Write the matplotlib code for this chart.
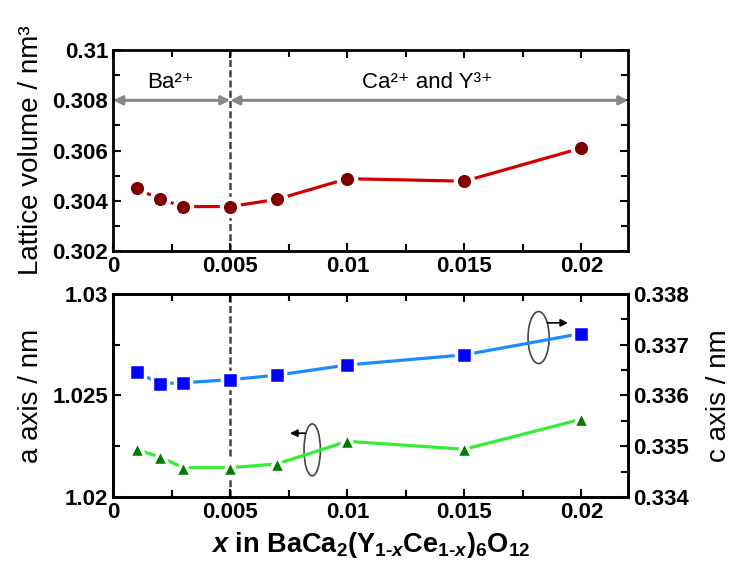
import matplotlib
matplotlib.use('Agg')
import matplotlib.pyplot as plt
from matplotlib.patches import Ellipse
from matplotlib.ticker import MultipleLocator, FuncFormatter

# Datos
x_vals = [0.001, 0.002, 0.003, 0.005, 0.007, 0.01, 0.015, 0.02]
volumen = [0.30449, 0.30406, 0.30377, 0.30377, 0.30406, 0.30488, 0.30478, 0.3061]
eje_a = [1.02234, 1.02196, 1.02144, 1.02144, 1.02163, 1.02274, 1.02235, 1.02383]
eje_c = [0.33646, 0.33623, 0.33625, 0.33631, 0.33640, 0.33660, 0.33680, 0.33722]

x_limite = 0.005  # cambio de sitio de sustitucion

plt.rcParams['font.family'] = ['Liberation Sans', 'DejaVu Sans']
plt.rcParams['mathtext.fontset'] = 'custom'
plt.rcParams['mathtext.rm'] = 'Liberation Sans:bold'
plt.rcParams['mathtext.it'] = 'Liberation Sans:italic:bold'
plt.rcParams['mathtext.bf'] = 'Liberation Sans:bold'

fmt = FuncFormatter(lambda v, p: '%g' % round(v, 6))


def estilo_ejes(ax, mayor, menor, lado_izq=True, lado_der=True):
    for s in ax.spines.values():
        s.set_linewidth(2)
    ax.set_xlim(0, 0.022)
    ax.xaxis.set_major_locator(MultipleLocator(0.005))
    ax.xaxis.set_minor_locator(MultipleLocator(0.0025))
    ax.yaxis.set_major_locator(MultipleLocator(mayor))
    ax.yaxis.set_minor_locator(MultipleLocator(menor))
    ax.xaxis.set_major_formatter(fmt)
    ax.yaxis.set_major_formatter(fmt)
    ax.tick_params(which='both', direction='in', top=True, left=lado_izq, right=lado_der,
                   width=1.5, labelsize=16)
    ax.tick_params(which='major', length=6)
    ax.tick_params(which='minor', length=5)
    for t in ax.get_xticklabels() + ax.get_yticklabels():
        t.set_fontweight('bold')


fig = plt.figure(figsize=(7.4, 5.66), dpi=100)
ax1 = fig.add_axes([0.153, 0.5565, 0.696, 0.355])
ax2 = fig.add_axes([0.153, 0.122, 0.696, 0.3587])
ax3 = ax2.twinx()

# Panel superior: volumen de la celda
ax1.plot(x_vals, volumen, '-', color='#d00000', lw=2.3, marker='o', ms=12.5,
         mfc='#800000', mec='white', mew=3)
ax1.set_ylim(0.302, 0.31)
estilo_ejes(ax1, 0.002, 0.001)
ax1.axvline(x_limite, color='#444444', lw=1.8, ls=(0, (2.8, 1.3)), zorder=1)
ax1.set_ylabel('Lattice volume / nm³', fontsize=20, labelpad=6)

gris = '#888888'
ax1.annotate('', xy=(0, 0.308), xytext=(x_limite, 0.308),
             arrowprops=dict(arrowstyle='<|-|>', color=gris, lw=2.2,
                             shrinkA=0, shrinkB=0, mutation_scale=13))
ax1.annotate('', xy=(x_limite, 0.308), xytext=(0.022, 0.308),
             arrowprops=dict(arrowstyle='<|-|>', color=gris, lw=2.2,
                             shrinkA=0, shrinkB=0, mutation_scale=13))
ax1.text(0.00246, 0.3087, 'Ba²⁺', fontsize=16, ha='center', va='center')
ax1.text(0.01344, 0.3087, 'Ca²⁺ and Y³⁺', fontsize=16, ha='center', va='center')

# Panel inferior: ejes a y c
ax2.plot(x_vals, eje_a, '-', color='#33ee33', lw=2.3, marker='^', ms=11.5,
         mfc='#007a00', mec='white', mew=2.5)
ax2.set_ylim(1.02, 1.03)
estilo_ejes(ax2, 0.005, 0.0025, lado_der=False)
ax2.axvline(x_limite, color='#444444', lw=1.8, ls=(0, (2.8, 1.3)), zorder=1)
ax2.set_ylabel('a axis / nm', fontsize=20, labelpad=6)
ax2.set_xlabel(r'$x$ in BaCa$_{2}$(Y$_{1\text{-}x}$Ce$_{1\text{-}x}$)$_{6}$O$_{12}$',
               fontsize=19.5, fontweight='bold', labelpad=5)

ax3.plot(x_vals, eje_c, '-', color='#1a8cff', lw=2.3, marker='s', ms=12,
         mfc='#0000ff', mec='white', mew=2.5)
ax3.set_ylim(0.334, 0.338)
estilo_ejes(ax3, 0.001, 0.0005, lado_izq=False)
ax3.set_ylabel('c axis / nm', fontsize=20, labelpad=12)

# Elipses que indican a que eje pertenece cada serie
ax2.add_patch(Ellipse((0.0085, 1.02232), 0.0007, 0.00256, fill=False,
                      ec='#444444', lw=1.2))
ax2.annotate('', xy=(0.00755, 1.02314), xytext=(0.0082, 1.02314),
             arrowprops=dict(arrowstyle='-|>', color='black', lw=1.2,
                             shrinkA=0, shrinkB=0, mutation_scale=11))
ax3.add_patch(Ellipse((0.01817, 0.33714), 0.0009, 0.001025, fill=False,
                      ec='#444444', lw=1.2))
ax3.annotate('', xy=(0.01943, 0.33743), xytext=(0.01855, 0.33743),
             arrowprops=dict(arrowstyle='-|>', color='black', lw=1.2,
                             shrinkA=0, shrinkB=0, mutation_scale=11))

fig.savefig('out.png', dpi=100)
